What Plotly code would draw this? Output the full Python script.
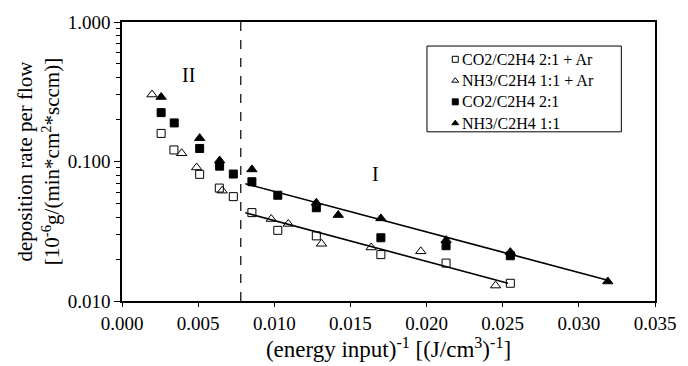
import plotly.graph_objects as go

# ---- data ----
co2_ar_x = [0.00257, 0.00341, 0.0051, 0.00639, 0.00731, 0.00853, 0.01023, 0.01276, 0.0170, 0.02128, 0.0255]
co2_ar_y = [0.159, 0.121, 0.0809, 0.0645, 0.056, 0.0430, 0.0321, 0.0293, 0.0215, 0.0187, 0.0134]

nh3_ar_x = [0.00197, 0.00392, 0.0049, 0.00658, 0.0098, 0.01092, 0.0131, 0.01636, 0.01962, 0.02453]
nh3_ar_y = [0.302, 0.1146, 0.0906, 0.0618, 0.0387, 0.0357, 0.0257, 0.0242, 0.0227, 0.0129]

co2_x = [0.00257, 0.00343, 0.0051, 0.00641, 0.00731, 0.00853, 0.01023, 0.01276, 0.0170, 0.02128, 0.0255]
co2_y = [0.224, 0.189, 0.124, 0.0926, 0.0813, 0.0716, 0.0573, 0.0466, 0.0284, 0.0249, 0.0211]

nh3_x = [0.00257, 0.0051, 0.00641, 0.00853, 0.01276, 0.0142, 0.0170, 0.02128, 0.0255, 0.0319]
nh3_y = [0.290, 0.147, 0.1016, 0.0877, 0.0506, 0.0413, 0.0391, 0.0273, 0.0224, 0.0138]

# fitted exponential trend lines (regime I), endpoints
fit_plasma_x = [0.0081, 0.0319]
fit_plasma_y = [0.0693, 0.0141]
fit_ar_x = [0.0081, 0.02535]
fit_ar_y = [0.0429, 0.0134]

boundary_x = 0.0078

legend_names = ["CO2/C2H4 2:1 + Ar", "NH3/C2H4 1:1 + Ar", "CO2/C2H4 2:1", "NH3/C2H4 1:1"]

x_tickvals = [0.000, 0.005, 0.010, 0.015, 0.020, 0.025, 0.030, 0.035]
x_ticktext = ["0.000", "0.005", "0.010", "0.015", "0.020", "0.025", "0.030", "0.035"]
y_tickvals = [0.01, 0.1, 1.0]
y_ticktext = ["0.010", "0.100", "1.000"]
y_minor = [0.02, 0.03, 0.04, 0.05, 0.06, 0.07, 0.08, 0.09,
           0.2, 0.3, 0.4, 0.5, 0.6, 0.7, 0.8, 0.9]

FONT = "Liberation Serif"

# plot area in pixels (layout)
W, H = 688, 366
L, R, T, B = 122, 23, 19, 65
PW, PH = W - L - R, H - T - B


def px_to_paper_x(px):
    return (px - L) / PW


def px_to_paper_y(py):
    return (H - B - py) / PH


fig = go.Figure()

# fit lines
fig.add_trace(go.Scatter(x=fit_plasma_x, y=fit_plasma_y, mode="lines",
                         line=dict(color="black", width=1.6), showlegend=False, hoverinfo="skip"))
fig.add_trace(go.Scatter(x=fit_ar_x, y=fit_ar_y, mode="lines",
                         line=dict(color="black", width=1.6), showlegend=False, hoverinfo="skip"))

series = [
    (co2_ar_x, co2_ar_y, "square-open", 8),
    (nh3_ar_x, nh3_ar_y, "triangle-up-open", 9),
    (co2_x, co2_y, "square", 8),
    (nh3_x, nh3_y, "triangle-up", 9),
]
for (xs, ys, sym, sz), name in zip(series, legend_names):
    fig.add_trace(go.Scatter(
        x=xs, y=ys, mode="markers", name=name, showlegend=False,
        marker=dict(symbol=sym, size=sz, color="black",
                    line=dict(color="black", width=1))))

fig.add_shape(type="line", xref="x", yref="paper", x0=boundary_x, x1=boundary_x,
              y0=0, y1=1, line=dict(color="black", width=1.2, dash="dash"))

# ---- hand-built legend box ----
box_l, box_r, box_t, box_b = 432.7, 630.7, 43.3, 130.0
row_y = [56.7, 78.3, 99.7, 121.3]
mark_x, text_x = 461.5, 466.0

fig.add_shape(type="rect", xref="paper", yref="paper",
              x0=px_to_paper_x(box_l), x1=px_to_paper_x(box_r),
              y0=px_to_paper_y(box_b), y1=px_to_paper_y(box_t),
              line=dict(color="black", width=1), fillcolor="rgba(0,0,0,0)", layer="above")
for (xs, ys, sym, sz), name, ry in zip(series, legend_names, row_y):
    fig.add_trace(go.Scatter(
        x=[px_to_paper_x(mark_x)], y=[px_to_paper_y(ry)], xaxis="x2", yaxis="y2",
        mode="markers", showlegend=False, hoverinfo="skip",
        marker=dict(symbol=sym, size=6, color="black", line=dict(color="black", width=1))))
    fig.add_annotation(x=px_to_paper_x(text_x), y=px_to_paper_y(ry), xref="paper", yref="paper",
                       text=name, showarrow=False, xanchor="left", yanchor="middle",
                       font=dict(family=FONT, size=16, color="black"))

fig.add_annotation(x=0.00435, y=-0.381, xref="x", yref="y", text="II", showarrow=False,
                   font=dict(family=FONT, size=20, color="black"))
fig.add_annotation(x=0.01666, y=-1.09, xref="x", yref="y", text="I", showarrow=False,
                   font=dict(family=FONT, size=20, color="black"))

fig.update_layout(
    width=W, height=H,
    margin=dict(l=L, r=R, t=T, b=B),
    paper_bgcolor="white", plot_bgcolor="white",
    font=dict(family=FONT, size=17, color="black"),
    showlegend=False,
    xaxis2=dict(overlaying="x", range=[0, 1], visible=False, fixedrange=True),
    yaxis2=dict(overlaying="y", range=[0, 1], visible=False, fixedrange=True),
)
fig.layout.xaxis.update(
    range=[0, 0.035], tickvals=x_tickvals, ticktext=x_ticktext,
    showline=True, linecolor="black", linewidth=1.5, mirror=True,
    ticks="outside", ticklen=4, tickcolor="black", showgrid=False, zeroline=False,
    tickfont=dict(family=FONT, size=19),
    title=dict(text="(energy input)<sup>-1</sup> [(J/cm<sup>3</sup>)<sup>-1</sup>]",
               font=dict(family=FONT, size=23), standoff=2),
)
fig.layout.yaxis.update(
    type="log", range=[-2, 0], tickvals=y_tickvals, ticktext=y_ticktext,
    showline=True, linecolor="black", linewidth=1.5, mirror=True,
    ticks="outside", ticklen=6, tickcolor="black", showgrid=False, zeroline=False,
    tickfont=dict(family=FONT, size=19),
    minor=dict(tickvals=y_minor, ticks="outside", ticklen=4, tickcolor="black", showgrid=False),
    title=dict(text="deposition rate per flow<br>[10<sup>-6</sup>g/(min*cm<sup>2</sup>*sccm)]",
               font=dict(family=FONT, size=21), standoff=2),
)

fig.write_html("out.html")
